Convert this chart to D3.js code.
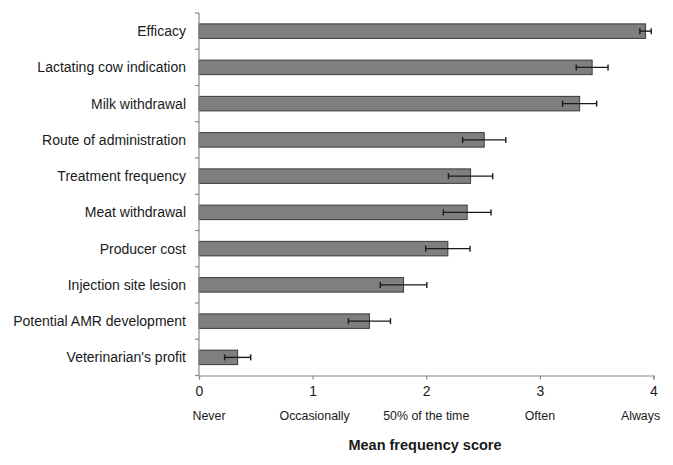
<!DOCTYPE html>
<html><head><meta charset="utf-8">
<script src="https://cdn.jsdelivr.net/npm/d3@7"></script>
<style>body{margin:0;background:#fff;}svg{display:block;font-family:"Liberation Sans",Arial,sans-serif;}</style>
</head><body><div id="chart"></div>
<script>
const categories = ["Efficacy","Lactating cow indication","Milk withdrawal","Route of administration","Treatment frequency","Meat withdrawal","Producer cost","Injection site lesion","Potential AMR development","Veterinarian's profit"];
const means = [3.93,3.46,3.35,2.51,2.39,2.36,2.19,1.80,1.50,0.34];
const errors = [0.05,0.14,0.15,0.19,0.195,0.21,0.195,0.205,0.185,0.115];
const tickValues = [0,1,2,3,4];
const tickDescriptions = ["Never","Occasionally","50% of the time","Often","Always"];
const axisTitle = "Mean frequency score";

const W=673,H=465;
const svg=d3.select("#chart").append("svg").attr("width",W).attr("height",H);
const x=d3.scaleLinear().domain([0,4]).range([199,653.5]);
const y=d3.scaleBand().domain(categories).range([13,375.5]).paddingInner(0.6).paddingOuter(0.3);
const yt=d3.scaleBand().domain(categories).range([13,375.5]);

const axisColor="#8a8a8a";
// bars
svg.append("g").selectAll("rect").data(categories).join("rect")
 .attr("x",x(0)).attr("y",d=>y(d)).attr("width",(d,i)=>x(means[i])-x(0)).attr("height",y.bandwidth())
 .attr("fill","#7f7f81").attr("stroke","#3a3a3a").attr("stroke-width",1);
// error bars
const eb=svg.append("g").attr("stroke","#1a1a1a").attr("stroke-width",1.4);
categories.forEach((c,i)=>{
  const cy=y(c)+y.bandwidth()/2;
  const x1=x(means[i]-errors[i]), x2=x(means[i]+errors[i]);
  eb.append("line").attr("x1",x1).attr("x2",x2).attr("y1",cy).attr("y2",cy);
  eb.append("line").attr("x1",x1).attr("x2",x1).attr("y1",cy-3).attr("y2",cy+3);
  eb.append("line").attr("x1",x2).attr("x2",x2).attr("y1",cy-3).attr("y2",cy+3);
});
// y axis
svg.append("line").attr("x1",x(0)).attr("x2",x(0)).attr("y1",13).attr("y2",375.5).attr("stroke",axisColor).attr("stroke-width",1.2);
const yTicks=categories.map(c=>yt(c)).concat([375.5]);
svg.append("g").selectAll("line").data(yTicks).join("line")
 .attr("x1",x(0)-4).attr("x2",x(0)).attr("y1",d=>d).attr("y2",d=>d).attr("stroke",axisColor).attr("stroke-width",1.2);
svg.append("g").selectAll("text").data(categories).join("text")
 .attr("x",186).attr("y",d=>yt(d)+yt.bandwidth()/2).attr("dy","0.35em").attr("text-anchor","end")
 .attr("font-size",14).attr("fill","#1a1a1a").text(d=>d);
// x axis
const xAxis=d3.axisBottom(x).tickValues(tickValues).tickFormat(d3.format("d")).tickSize(4).tickPadding(7);
const gx=svg.append("g").attr("transform","translate(0,375.5)").call(xAxis);
gx.select(".domain").attr("stroke",axisColor).attr("stroke-width",1.2);
gx.selectAll(".tick line").attr("stroke",axisColor).attr("stroke-width",1.2);
gx.selectAll(".tick text").attr("font-size",14).attr("fill","#1a1a1a").attr("font-family","Liberation Sans, Arial, sans-serif");
const descOffset=[10,2,0,0,-13];
svg.append("g").selectAll("text").data(tickValues).join("text")
 .attr("x",(d,i)=>x(d)+descOffset[i]).attr("y",420).attr("text-anchor","middle")
 .attr("font-size",12.4).attr("fill","#1a1a1a").text((d,i)=>tickDescriptions[i]);
svg.append("text").attr("x",425).attr("y",450).attr("text-anchor","middle").attr("font-size",14.5).attr("font-weight","bold").attr("fill","#1a1a1a").text(axisTitle);
</script></body></html>
